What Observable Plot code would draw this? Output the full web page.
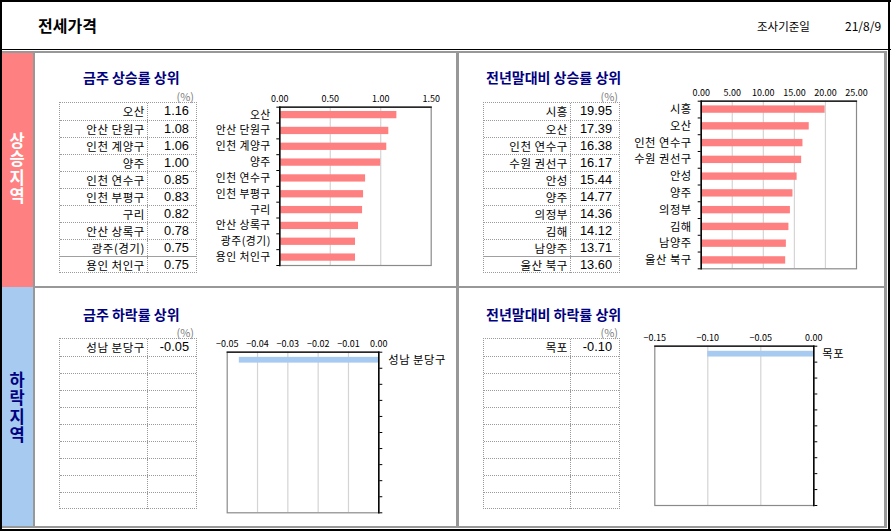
<!DOCTYPE html>
<html><head><meta charset="utf-8">
<script src="https://cdn.jsdelivr.net/npm/d3@7"></script>
<script src="https://cdn.jsdelivr.net/npm/@observablehq/plot@0.6"></script>
<style>
body{margin:0;background:#fff;}
#page{position:relative;width:891px;height:531px;overflow:hidden;font-family:"Noto Sans CJK KR","Noto Sans",sans-serif;color:#000;}
.abs{position:absolute;}
.line{position:absolute;}
.title{position:absolute;font-size:14px;font-weight:bold;color:#000080;line-height:16px;white-space:nowrap;}
.pct{position:absolute;font-size:11px;color:#808080;line-height:13px;white-space:nowrap;text-align:right;}
.side{position:absolute;font-size:16.5px;font-weight:bold;writing-mode:vertical-rl;text-orientation:upright;letter-spacing:2px;line-height:20px;width:20px;}
.tbl{position:absolute;border:1px dotted #9a9a9a;box-sizing:border-box;}
.row{display:flex;box-sizing:border-box;}
.row + .row{border-top:1px dotted #9a9a9a;}
.row.sep{border-top:1px solid #a0a0a0;}
.c1{box-sizing:border-box;border-right:1px dotted #9a9a9a;text-align:right;font-size:11.5px;letter-spacing:0.5px;white-space:nowrap;padding-right:2.5px;}
.c2{box-sizing:border-box;text-align:right;font-family:"Liberation Sans",Arial,sans-serif;font-size:12.8px;white-space:nowrap;}
.chart{position:absolute;}
.chart svg{overflow:visible;}
.chart [aria-label="y-axis tick label"] text{letter-spacing:0.5px;}
</style></head><body><div id="page"></div>
<script>
// ---- data ----
const weeklyUpNames = ["오산","안산 단원구","인천 계양구","양주","인천 연수구","인천 부평구","구리","안산 상록구","광주(경기)","용인 처인구"];
const weeklyUpValues = [1.16,1.08,1.06,1.00,0.85,0.83,0.82,0.78,0.75,0.75];
const ytdUpNames = ["시흥","오산","인천 연수구","수원 권선구","안성","양주","의정부","김해","남양주","울산 북구"];
const ytdUpValues = [19.95,17.39,16.38,16.17,15.44,14.77,14.36,14.12,13.71,13.60];
const weeklyDownNames = ["성남 분당구"];
const weeklyDownValues = [-0.046];
const ytdDownNames = ["목포"];
const ytdDownValues = [-0.10];
const weeklyUpTicks = [0, 0.5, 1.0, 1.5];
const ytdUpTicks = [0, 5, 10, 15, 20, 25];
const weeklyDownTicks = [-0.05, -0.04, -0.03, -0.02, -0.01, 0];
const ytdDownTicks = [-0.15, -0.10, -0.05, 0];
const headerTitle = "전세가격";
const dateLabel = "조사기준일";
const dateValue = "21/8/9";
const upLabel = "상승지역";
const downLabel = "하락지역";
const titles = ["금주 상승률 상위", "전년말대비 상승률 상위", "금주 하락률 상위", "전년말대비 하락률 상위"];
const SLOTS = 10;

const page = document.getElementById("page");
function add(html){ const t=document.createElement("div"); t.innerHTML=html; const el=t.firstElementChild; page.appendChild(el); return el; }
function rect(x,y,w,h,c){ add(`<div class="line" style="left:${x}px;top:${y}px;width:${w}px;height:${h}px;background:${c}"></div>`); }

// ---- frame / strips ----
const GRAY = "#989898";
rect(2,53,31,234,"#FF8080");
rect(2,287,31,239,"#A6CAF0");
rect(0,51,887,2,GRAY);
rect(0,526,887,2,GRAY);
rect(884,51,3,477,GRAY);
rect(33,53,2,473,GRAY);
rect(456,53,2.5,473,GRAY);
rect(35,286,849,2,GRAY);
rect(0,49,891,1.3,"#000");
rect(0,0,891,1.5,"#000");
rect(0,0,1.5,531,"#000");
rect(888,0,2,531,"#000");
rect(0,529,891,2,"#000");

// ---- header ----
add(`<div class="abs" style="left:38px;top:16px;font-size:16px;font-weight:bold;line-height:19px">${headerTitle}</div>`);
add(`<div class="abs" style="left:757px;top:18px;font-size:11.5px;line-height:16px">${dateLabel}</div>`);
add(`<div class="abs" style="left:845px;top:18px;font-size:12px;line-height:16px">${dateValue}</div>`);

// ---- side labels ----
add(`<div class="side" style="left:7px;top:${132}px;color:#fff">${upLabel}</div>`);
add(`<div class="side" style="left:7px;top:${371}px;color:#000080">${downLabel}</div>`);

// ---- titles & (%) ----
add(`<div class="title" style="left:83px;top:69px">${titles[0]}</div>`);
add(`<div class="title" style="left:486px;top:69px">${titles[1]}</div>`);
add(`<div class="title" style="left:83px;top:305.5px">${titles[2]}</div>`);
add(`<div class="title" style="left:486px;top:305.5px">${titles[3]}</div>`);
add(`<div class="pct" style="left:150px;width:44px;top:89.5px">(%)</div>`);
add(`<div class="pct" style="left:574px;width:44px;top:89.5px">(%)</div>`);
add(`<div class="pct" style="left:150px;width:44px;top:325.5px">(%)</div>`);
add(`<div class="pct" style="left:574px;width:44px;top:325.5px">(%)</div>`);

// ---- tables ----
const tfmt = d3.formatLocale({decimal:".",thousands:",",grouping:[3],currency:["",""],minus:"-"}).format(".2f");
function table(names, values, left, top, colX, right, sepLast){
  const rowH = 17;
  let rows = "";
  for (let i=0;i<SLOTS;i++){
    const nm = names[i] ?? "";
    const v = values[i] != null ? tfmt(values[i]) : "";
    const cls = (sepLast && i===SLOTS-1) ? "row sep" : "row";
    rows += `<div class="${cls}" style="height:${rowH}px;line-height:${rowH-1}px"><div class="c1" style="width:${colX-left}px">${nm}</div><div class="c2" style="width:${right-colX-1}px;padding-right:${right-colX>45?7:6}px">${v}</div></div>`;
  }
  add(`<div class="tbl" style="left:${left}px;top:${top}px;width:${right-left}px;height:${rowH*SLOTS+1}px">${rows}</div>`);
}
table(weeklyUpNames, weeklyUpValues, 59, 102, 148, 197, true);
table(ytdUpNames, ytdUpValues, 483, 102, 571, 620, true);
table(weeklyDownNames, weeklyDownValues, 59, 338, 148, 197, false);
table(ytdDownNames, ytdDownValues, 483, 338, 571, 620, false);

// ---- charts ----
function chart({names, values, domain, ticks, fill, side, left, top, width, height, mt, mr, mb, ml, pad, labelPad, labelSize}){
  const bars = values.map((v,i)=>({i, value:v}));
  const slots = d3.range(SLOTS);
  const plot = Plot.plot({
    width, height, marginTop:mt, marginRight:mr, marginBottom:mb, marginLeft:ml,
    style:{fontFamily:'"Noto Sans CJK KR","Noto Sans",sans-serif', fontSize:"9px", color:"#000", background:"transparent", overflow:"visible"},
    x:{type:"linear", domain, axis:null},
    y:{type:"linear", domain:[SLOTS, 0], axis:null},
    marks:[
      Plot.gridX(ticks.slice(1,-1), {stroke:"#d4d4d4", strokeOpacity:1, strokeWidth:1.2}),
      Plot.rect(bars, {x1:0, x2:"value", y1:d => d.i + pad/2, y2:d => d.i + 1 - pad/2, fill}),
      Plot.frame({stroke:"#8a8a8a", strokeWidth:1.2}),
      Plot.frame({anchor:"top", stroke:"#000", strokeWidth:1.2}),
      Plot.frame({anchor:side, stroke:"#000", strokeWidth:1.5}),
      Plot.axisX({anchor:"top", ticks, tickFormat:d3.format(".2f"), tickSize:0, tickPadding:5, fontSize:9, label:null}),
      Plot.axisY(slots.map(i => i + 0.5), {anchor:side, tickSize:0, tickPadding:labelPad, tickFormat:v => names[Math.round(v - 0.5)] ?? "", fontSize:labelSize, label:null}),
      Plot.axisY(d3.range(SLOTS + 1), {anchor:side, tickSize:3, tickFormat:() => "", label:null})
    ]
  });
  const wrap = add(`<div class="chart" style="left:${left}px;top:${top}px"></div>`);
  wrap.appendChild(plot);
}
chart({names:weeklyUpNames, values:weeklyUpValues, domain:[0,1.5], ticks:weeklyUpTicks, fill:"#FF8080", side:"left",
  left:200, top:80, width:250, height:195, mt:26.7, mr:19.3, mb:10, ml:79.3, pad:0.54, labelPad:9, labelSize:10.8});
chart({names:ytdUpNames, values:ytdUpValues, domain:[0,25], ticks:ytdUpTicks, fill:"#FF8080", side:"left",
  left:620, top:75, width:260, height:200, mt:25.7, mr:24, mb:6.7, ml:80.7, pad:0.56, labelPad:9.5, labelSize:11.3});
chart({names:weeklyDownNames, values:weeklyDownValues, domain:[-0.05,0], ticks:weeklyDownTicks, fill:"#A6CAF0", side:"right",
  left:200, top:320, width:255, height:200, mt:31.7, mr:76.7, mb:7.7, ml:26.7, pad:0.64, labelPad:9.5, labelSize:11.3});
chart({names:ytdDownNames, values:ytdDownValues, domain:[-0.15,0], ticks:ytdDownTicks, fill:"#A6CAF0", side:"right",
  left:620, top:315, width:260, height:200, mt:30.7, mr:66.7, mb:10, ml:34.3, pad:0.64, labelPad:8.5, labelSize:11.3});
</script>
</body></html>
